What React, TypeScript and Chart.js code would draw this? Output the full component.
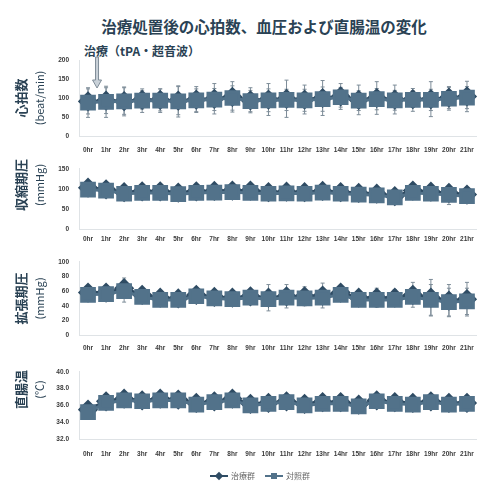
import React, { useEffect, useRef } from 'react';
import { Chart, registerables } from 'chart.js';

Chart.register(...registerables);

// ---- data ----
const hours = ['0hr', '1hr', '2hr', '3hr', '4hr', '5hr', '6hr', '7hr', '8hr', '9hr', '10hr', '11hr', '12hr', '13hr', '14hr', '15hr', '16hr', '17hr', '18hr', '19hr', '20hr', '21hr'];
const seriesNames = ['治療群', '対照群'];

// heart rate (beat/min)
const hrTreated = [91, 93, 92, 95, 95, 93, 96, 98, 103, 94, 96, 98, 96, 100, 104, 95, 100, 96, 97, 97, 101, 104];
const hrTreatedSd = [33, 34, 35, 24, 29, 37, 34, 40, 40, 33, 42, 49, 38, 46, 34, 39, 43, 38, 22, 46, 29, 40];
const hrControl = [88, 90, 91, 93, 93, 91, 94, 96, 100, 92, 94, 95, 94, 97, 102, 93, 97, 94, 95, 95, 98, 101];
const hrControlSd = [39, 41, 38, 31, 31, 41, 30, 29, 32, 28, 30, 28, 29, 32, 26, 26, 28, 26, 30, 28, 30, 29];

// systolic pressure (mmHg)
const sbpTreated = [103, 99, 92, 94, 94, 91, 94, 95, 96, 96, 92, 93, 92, 95, 92, 90, 88, 82, 96, 93, 90, 86];
const sbpTreatedSd = [8, 7, 8, 8, 7, 8, 8, 7, 8, 9, 8, 8, 8, 7, 8, 8, 8, 9, 8, 9, 16, 10];
const sbpControl = [98, 96, 88, 90, 90, 87, 90, 91, 92, 90, 88, 89, 88, 91, 88, 86, 84, 79, 90, 88, 85, 82];
const sbpControlSd = [9, 8, 9, 9, 9, 9, 9, 9, 9, 10, 9, 9, 9, 9, 9, 9, 9, 10, 9, 10, 24, 10];

// diastolic pressure (mmHg)
const dbpTreated = [58, 58, 64, 55, 51, 50, 55, 52, 51, 53, 51, 53, 53, 54, 58, 51, 51, 51, 55, 51, 47, 49];
const dbpTreatedSd = [6, 6, 14, 6, 6, 6, 6, 6, 6, 6, 18, 16, 13, 17, 7, 8, 13, 11, 17, 25, 22, 23];
const dbpControl = [55, 56, 60, 52, 48, 48, 53, 50, 49, 51, 49, 51, 50, 51, 55, 48, 48, 48, 52, 48, 45, 46];
const dbpControlSd = [7, 7, 15, 7, 7, 7, 7, 7, 7, 7, 7, 7, 7, 7, 8, 8, 7, 7, 8, 21, 19, 18];

// rectal temperature (℃)
const tempTreated = [35.5, 36.5, 36.8, 36.6, 36.8, 36.7, 36.3, 36.5, 36.8, 36.2, 36.3, 36.5, 36.2, 36.4, 36.4, 36.1, 36.6, 36.4, 36.3, 36.5, 36.3, 36.3];
const tempTreatedSd = [0.4, 0.3, 0.3, 0.3, 0.3, 0.3, 0.3, 0.3, 0.3, 0.3, 0.3, 0.3, 0.3, 0.3, 0.3, 0.3, 0.3, 0.3, 0.3, 0.3, 0.3, 0.3];
const tempControl = [35.2, 36.3, 36.6, 36.5, 36.6, 36.6, 36.1, 36.4, 36.6, 36.0, 36.2, 36.4, 36.0, 36.2, 36.2, 35.9, 36.5, 36.2, 36.1, 36.4, 36.1, 36.2];
const tempControlSd = [0.4, 0.4, 0.3, 0.3, 0.3, 0.3, 0.4, 0.3, 0.3, 0.4, 0.4, 0.3, 0.4, 0.3, 0.3, 0.4, 0.3, 0.4, 0.3, 0.3, 0.3, 0.3];

// ---- styling ----
const JP = '"Noto Sans CJK JP", "Noto Sans", sans-serif';
const NUM = '"Liberation Sans", Arial, sans-serif';
const TREATED_COLOR = '#2f4c64';
const CONTROL_COLOR = '#52728a';
const ERROR_COLOR = '#7d8c98';
const TITLE_COLOR = '#2a4254';

// vertical error bars (mean ± SD) drawn beneath the markers
const errorBarPlugin = {
  id: 'errorBars',
  beforeDatasetsDraw(chart: any) {
    const { ctx } = chart;
    const xs = chart.scales.x;
    const ys = chart.scales.y;
    chart.data.datasets.forEach((ds: any) => {
      const sd: number[] | undefined = ds.errorBars;
      if (!sd) return;
      ctx.save();
      ctx.strokeStyle = ERROR_COLOR;
      ctx.lineWidth = 1;
      ds.data.forEach((v: number, i: number) => {
        const px = xs.getPixelForValue(i);
        const top = ys.getPixelForValue(v + sd[i]);
        const bot = ys.getPixelForValue(v - sd[i]);
        ctx.beginPath();
        ctx.moveTo(px, top);
        ctx.lineTo(px, bot);
        ctx.moveTo(px - 2, top);
        ctx.lineTo(px + 2, top);
        ctx.moveTo(px - 2, bot);
        ctx.lineTo(px + 2, bot);
        ctx.stroke();
      });
      ctx.restore();
    });
  },
};

// two-line rotated y-axis title: name + unit
const axisTitlePlugin = {
  id: 'axisTitle',
  afterDraw(chart: any, _args: any, opts: any) {
    if (!opts || !opts.main) return;
    const { ctx, chartArea } = chart;
    const cy = (chartArea.top + chartArea.bottom) / 2 + (opts.shift || 0);
    ctx.save();
    ctx.fillStyle = TITLE_COLOR;
    ctx.textAlign = 'center';
    ctx.textBaseline = 'middle';
    ctx.translate(opts.mainX, cy);
    ctx.rotate(-Math.PI / 2);
    ctx.font = `bold 13px ${JP}`;
    ctx.fillText(opts.main, 0, 0);
    ctx.restore();
    ctx.save();
    ctx.fillStyle = TITLE_COLOR;
    ctx.textAlign = 'center';
    ctx.textBaseline = 'middle';
    ctx.translate(opts.unitX, cy);
    ctx.rotate(-Math.PI / 2);
    ctx.font = `11px ${JP}`;
    ctx.fillText(opts.unit, 0, 0);
    ctx.restore();
  },
};

// downward arrow marking when treatment was given
const treatmentArrowPlugin = {
  id: 'treatmentArrow',
  afterDraw(chart: any, _args: any, opts: any) {
    if (!opts || !opts.show) return;
    const { ctx, chartArea } = chart;
    const xs = chart.scales.x;
    const x = (xs.getPixelForValue(0) + xs.getPixelForValue(1)) / 2;
    const y0 = chartArea.top - 3;
    const y1 = chartArea.top + 28;
    ctx.save();
    ctx.fillStyle = '#c9d1d8';
    ctx.strokeStyle = '#7f8c97';
    ctx.lineWidth = 1;
    ctx.beginPath();
    ctx.moveTo(x - 1.5, y0);
    ctx.lineTo(x + 1.5, y0);
    ctx.lineTo(x + 1.5, y1 - 8);
    ctx.lineTo(x + 4.5, y1 - 8);
    ctx.lineTo(x, y1);
    ctx.lineTo(x - 4.5, y1 - 8);
    ctx.lineTo(x - 1.5, y1 - 8);
    ctx.closePath();
    ctx.fill();
    ctx.stroke();
    ctx.restore();
  },
};

type PanelProps = {
  top: number;
  height: number;
  padTop: number;
  treated: number[];
  treatedSd: number[];
  control: number[];
  controlSd: number[];
  min: number;
  max: number;
  step: number;
  decimals: number;
  xPad: number;
  main: string;
  unit: string;
  titleShift: number;
  arrow?: boolean;
};

function Panel(p: PanelProps) {
  const ref = useRef<HTMLCanvasElement | null>(null);
  useEffect(() => {
    if (!ref.current) return;
    const tickFont = { family: NUM, size: 6.5, weight: 'bold' as const };
    const chart = new Chart(ref.current, {
      type: 'line',
      data: {
        labels: hours,
        datasets: [
          {
            label: seriesNames[0],
            data: p.treated,
            errorBars: p.treatedSd,
            borderColor: TREATED_COLOR,
            backgroundColor: TREATED_COLOR,
            pointBackgroundColor: TREATED_COLOR,
            pointBorderColor: TREATED_COLOR,
            pointStyle: 'rectRot',
            pointRadius: 8,
            borderWidth: 3,
            tension: 0,
            order: 1,
          } as any,
          {
            label: seriesNames[1],
            data: p.control,
            errorBars: p.controlSd,
            borderColor: CONTROL_COLOR,
            backgroundColor: CONTROL_COLOR,
            pointBackgroundColor: CONTROL_COLOR,
            pointBorderColor: CONTROL_COLOR,
            pointStyle: 'rect',
            pointRadius: 9,
            borderWidth: 3,
            tension: 0,
            order: 0,
          } as any,
        ],
      },
      options: {
        responsive: false,
        animation: false,
        events: [],
        layout: { padding: { top: p.padTop, right: 0, bottom: 0, left: 0 } },
        plugins: {
          legend: { display: false },
          tooltip: { enabled: false },
          axisTitle: { main: p.main, unit: p.unit, mainX: 21, unitX: 40, shift: p.titleShift },
          treatmentArrow: { show: !!p.arrow },
        } as any,
        scales: {
          x: {
            type: 'category',
            offset: true,
            grid: { display: false, drawTicks: false },
            border: { display: true, color: '#dfe3e6', dash: [2, 2] },
            ticks: { font: tickFont, color: '#3a3a3a', padding: p.xPad, maxRotation: 0, autoSkip: false },
            afterFit(s: any) { s.height = 20; },
          },
          y: {
            min: p.min,
            max: p.max,
            grid: { display: false, drawTicks: false },
            border: { display: true, color: '#dfe3e6', dash: [2, 2] },
            ticks: {
              stepSize: p.step,
              font: tickFont,
              color: '#3a3a3a',
              padding: 10,
              callback: (v: any) => Number(v).toFixed(p.decimals),
            },
            afterFit(s: any) { s.width = 79; },
          },
        },
      },
      plugins: [errorBarPlugin, axisTitlePlugin, treatmentArrowPlugin],
    });
    return () => chart.destroy();
  }, []);
  return (
    <canvas
      ref={ref}
      width={488}
      height={p.height}
      style={{ position: 'absolute', left: 0, top: p.top, width: 488, height: p.height }}
    />
  );
}

function LegendItem({ label, color, diamond }: { label: string; color: string; diamond: boolean }) {
  return (
    <span style={{ display: 'inline-flex', alignItems: 'center', marginRight: 10 }}>
      <span style={{ position: 'relative', display: 'inline-block', width: 18, height: 8, marginRight: 3 }}>
        <span style={{ position: 'absolute', left: 0, top: 3, width: 18, height: 2, background: color }} />
        <span
          style={{
            position: 'absolute',
            left: 6,
            top: 1,
            width: 6,
            height: 6,
            background: color,
            transform: diamond ? 'rotate(45deg)' : 'none',
          }}
        />
      </span>
      <span>{label}</span>
    </span>
  );
}

export default function App() {
  return (
    <div
      style={{
        position: 'absolute',
        left: 0,
        top: 0,
        width: 484,
        height: 482,
        overflow: 'hidden',
        background: '#ffffff',
        fontFamily: JP,
      }}
    >
      <div
        style={{
          position: 'absolute',
          left: 264,
          top: 16,
          transform: 'translateX(-50%)',
          whiteSpace: 'nowrap',
          fontSize: 15.5,
          fontWeight: 'bold',
          lineHeight: '20px',
          color: TITLE_COLOR,
        }}
      >
        治療処置後の心拍数、血圧および直腸温の変化
      </div>
      <div
        style={{
          position: 'absolute',
          left: 84,
          top: 43,
          whiteSpace: 'nowrap',
          fontSize: 12,
          fontWeight: 'bold',
          lineHeight: '16px',
          color: TITLE_COLOR,
        }}
      >
        治療（tPA・超音波）
      </div>

      <Panel top={30} height={126} padTop={30} treated={hrTreated} treatedSd={hrTreatedSd} control={hrControl} controlSd={hrControlSd}
        min={0} max={200} step={50} decimals={0} xPad={10} main="心拍数" unit="(beat/min)" titleShift={0} arrow />
      <Panel top={155} height={94} padTop={10} treated={sbpTreated} treatedSd={sbpTreatedSd} control={sbpControl} controlSd={sbpControlSd}
        min={0} max={150} step={50} decimals={0} xPad={6.5} main="収縮期圧" unit="(mmHg)" titleShift={-14} />
      <Panel top={248} height={107} padTop={10} treated={dbpTreated} treatedSd={dbpTreatedSd} control={dbpControl} controlSd={dbpControlSd}
        min={0} max={100} step={20} decimals={0} xPad={9.5} main="拡張期圧" unit="(mmHg)" titleShift={0} />
      <Panel top={358} height={101} padTop={10} treated={tempTreated} treatedSd={tempTreatedSd} control={tempControl} controlSd={tempControlSd}
        min={32} max={40} step={2} decimals={1} xPad={11.5} main="直腸温" unit="(℃)" titleShift={-16} />

      <div
        style={{
          position: 'absolute',
          left: 210,
          top: 470,
          whiteSpace: 'nowrap',
          fontSize: 8,
          lineHeight: '12px',
          color: '#666',
          display: 'flex',
          alignItems: 'center',
        }}
      >
        <LegendItem label={seriesNames[0]} color={TREATED_COLOR} diamond />
        <LegendItem label={seriesNames[1]} color={CONTROL_COLOR} diamond={false} />
      </div>
    </div>
  );
}
